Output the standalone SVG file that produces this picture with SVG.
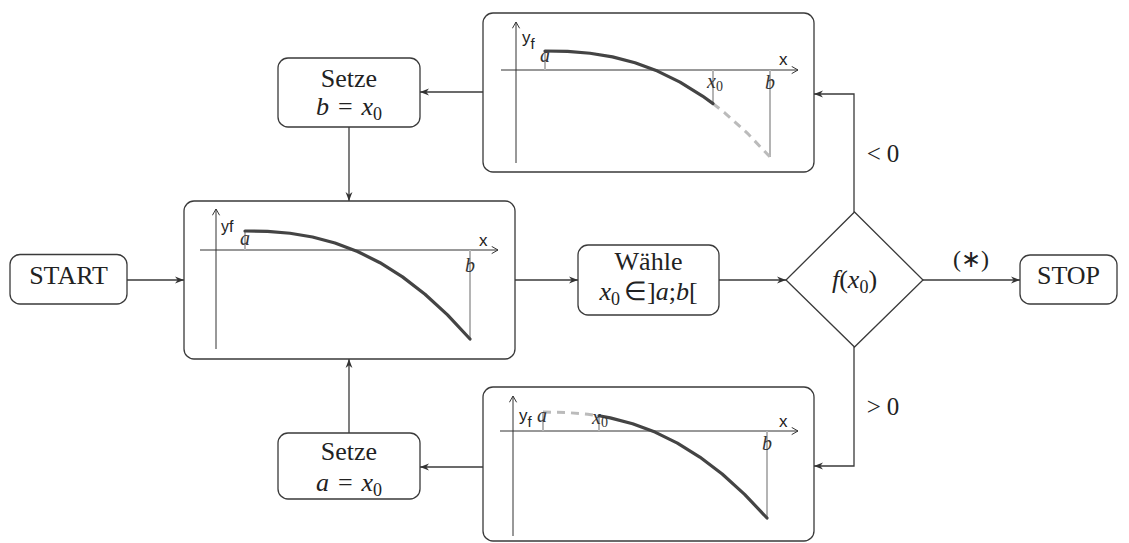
<svg xmlns="http://www.w3.org/2000/svg" width="1129" height="543" viewBox="0 0 1129 543">
<style>
.box{fill:#fff;stroke:#3a3a3a;stroke-width:1.3}
.conn{fill:none;stroke:#3a3a3a;stroke-width:1.3;marker-end:url(#arr)}
.axis{stroke:#333;stroke-width:1;marker-end:url(#ax)}
.curve{fill:none;stroke:#444;stroke-width:3.2;stroke-linejoin:round;stroke-linecap:round}
.dash{fill:none;stroke:#bbb;stroke-width:3;stroke-dasharray:8 6}
.guide{stroke:#b4b4b4;stroke-width:2}
.t{font-family:"Liberation Serif",serif;font-size:26px;fill:#222;text-anchor:middle}
.i{font-style:italic}
.sub{font-size:18px;font-style:normal}
.lbl{font-family:"Liberation Serif",serif;font-style:italic;font-size:20px;fill:#333;text-anchor:middle}
.sans{font-family:"Liberation Sans",sans-serif;font-size:17px;fill:#222}
</style>
<defs>
<marker id="arr" viewBox="0 0 10 10" refX="10" refY="5" markerWidth="9" markerHeight="9" markerUnits="userSpaceOnUse" orient="auto"><path d="M0,1.2 L10,5 L0,8.8 L3,5 z" fill="#333"/></marker>
<marker id="ax" viewBox="0 0 10 10" refX="9" refY="5" markerWidth="9" markerHeight="9" markerUnits="userSpaceOnUse" orient="auto"><path d="M2,1 L9,5 L2,9" fill="none" stroke="#333" stroke-width="1.1"/></marker>
</defs>

<g id="connectors">
<line class="conn" x1="127" y1="280" x2="184" y2="280"/>
<line class="conn" x1="515" y1="280" x2="578" y2="280"/>
<line class="conn" x1="719" y1="280" x2="786" y2="280"/>
<line class="conn" x1="923" y1="280" x2="1020" y2="280"/>
<path class="conn" d="M854,212 L854,94 L814,94"/>
<path class="conn" d="M854,347 L854,466 L814,466"/>
<line class="conn" x1="483" y1="92" x2="420" y2="92"/>
<line class="conn" x1="349" y1="127" x2="349" y2="201"/>
<line class="conn" x1="483" y1="467" x2="420" y2="467"/>
<line class="conn" x1="349" y1="433" x2="349" y2="359"/>
<text class="t" x="971" y="267" style="font-size:24px">(∗)</text>
<text class="t" x="883" y="162" style="font-size:25px">&lt;<tspan dx="6">0</tspan></text>
<text class="t" x="883" y="415" style="font-size:25px">&gt;<tspan dx="6">0</tspan></text>
</g>

<g id="node-start">
<rect class="box" x="10" y="254.5" width="117" height="49.5" rx="10"/>
<text class="t" x="68.5" y="284">START</text>
</g>

<g id="node-plot-main">
<rect class="box" x="184" y="201" width="331" height="158" rx="10"/>
<line class="axis" x1="216" y1="349" x2="216" y2="209"/>
<line class="axis" x1="200" y1="250" x2="498" y2="250"/>
<line class="guide" x1="245" y1="231" x2="245" y2="250"/>
<line class="guide" x1="470" y1="250" x2="470" y2="339"/>
<path class="curve" d="M245,231 L267.5,231.43 L290,233.27 L312.5,237.01 L335,242.98 L357.5,251.47 L380,262.7 L402.5,276.89 L425,294.22 L447.5,314.87 L470,339"/>
<text class="sans" x="221" y="232" style="font-size:16px">yf</text>
<text class="sans" x="479" y="246">x</text>
<text class="lbl" x="245" y="245">a</text>
<text class="lbl" x="470" y="272">b</text>
</g>

<g id="node-plot-top">
<rect class="box" x="483" y="13" width="331" height="159" rx="10"/>
<line class="axis" x1="516" y1="163" x2="516" y2="22"/>
<line class="axis" x1="501" y1="70" x2="798" y2="70"/>
<line class="guide" x1="545" y1="51" x2="545" y2="70"/>
<line class="guide" x1="713" y1="70" x2="713" y2="103.6"/>
<line class="guide" x1="770" y1="70" x2="770" y2="157"/>
<path class="dash" d="M713,103.6 L725,113.05 L747.5,133.32 L770,157"/>
<path class="curve" d="M545,51 L567.5,51.42 L590,53.23 L612.5,56.9 L635,62.76 L657.5,71.09 L680,82.11 L702.5,96.04 L713,103.6"/>
<text class="sans" x="522" y="43">y<tspan dy="6" style="font-size:15px">f</tspan></text>
<text class="sans" x="779" y="65">x</text>
<text class="lbl" x="545" y="62">a</text>
<text class="lbl" x="715" y="88">x<tspan dy="3" style="font-size:14px;font-style:normal">0</tspan></text>
<text class="lbl" x="770" y="89">b</text>
</g>

<g id="node-plot-bottom">
<rect class="box" x="483" y="387" width="331" height="154" rx="10"/>
<line class="axis" x1="513" y1="536" x2="513" y2="396"/>
<line class="axis" x1="500" y1="431" x2="798" y2="431"/>
<line class="guide" x1="543" y1="412" x2="543" y2="431"/>
<line class="guide" x1="599" y1="415.8" x2="599" y2="431"/>
<line class="guide" x1="767" y1="431" x2="767" y2="518"/>
<path class="dash" d="M543,412 L565.4,412.42 L587.8,414.23 L599,415.8"/>
<path class="curve" d="M599,415.8 L610.2,417.9 L632.6,423.76 L655,432.09 L677.4,443.11 L699.8,457.04 L722.2,474.05 L744.6,494.32 L767,518"/>
<text class="sans" x="519" y="421">y<tspan dy="6" style="font-size:15px">f</tspan></text>
<text class="sans" x="779" y="427">x</text>
<text class="lbl" x="542" y="422">a</text>
<text class="lbl" x="600" y="424">x<tspan dy="3" style="font-size:14px;font-style:normal">0</tspan></text>
<text class="lbl" x="767" y="450">b</text>
</g>

<g id="node-setze-b">
<rect class="box" x="278" y="58" width="142" height="69" rx="10"/>
<text class="t" x="349" y="87">Setze</text>
<text class="t" x="349" y="115"><tspan class="i">b</tspan><tspan dx="9">=</tspan><tspan class="i" dx="9">x</tspan><tspan class="sub" dy="5">0</tspan></text>
</g>

<g id="node-setze-a">
<rect class="box" x="278" y="433" width="142" height="66" rx="10"/>
<text class="t" x="349" y="460">Setze</text>
<text class="t" x="349" y="491"><tspan class="i">a</tspan><tspan dx="9">=</tspan><tspan class="i" dx="9">x</tspan><tspan class="sub" dy="5">0</tspan></text>
</g>

<g id="node-waehle">
<rect class="box" x="578" y="245" width="141" height="70" rx="10"/>
<text class="t" x="648.5" y="270">Wähle</text>
<text class="t" x="648.5" y="300"><tspan class="i">x</tspan><tspan class="sub" dy="5">0</tspan><tspan dy="-5" dx="4">∈]</tspan><tspan class="i">a</tspan>;<tspan class="i">b</tspan>[</text>
</g>

<g id="node-decision">
<polygon class="box" points="854.5,212 923,280 854.5,347 786,280"/>
<text class="t" x="854.5" y="288"><tspan class="i">f</tspan>(<tspan class="i">x</tspan><tspan class="sub" dy="5">0</tspan><tspan dy="-5">)</tspan></text>
</g>

<g id="node-stop">
<rect class="box" x="1020" y="255" width="97" height="49" rx="10"/>
<text class="t" x="1068.5" y="284">STOP</text>
</g>
</svg>
